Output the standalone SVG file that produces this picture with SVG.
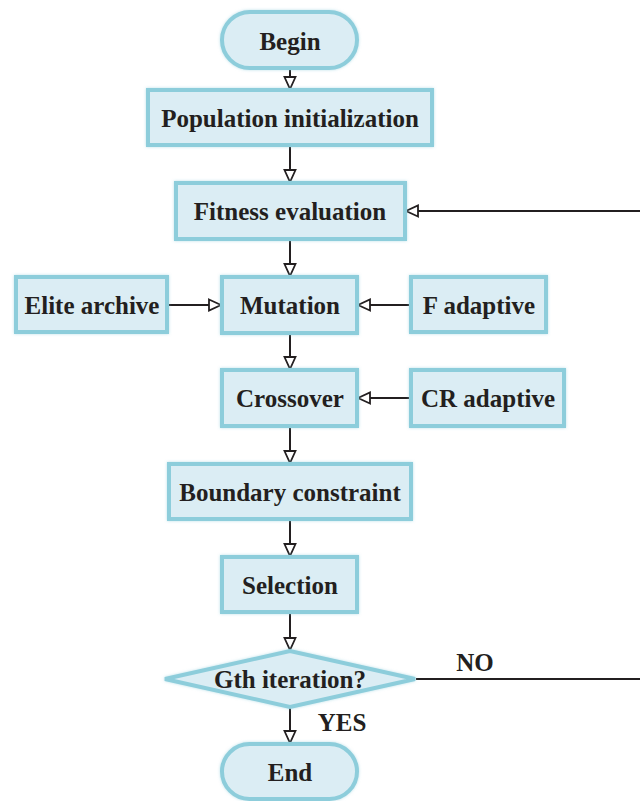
<svg xmlns="http://www.w3.org/2000/svg" width="640" height="801" viewBox="0 0 640 801">
<style>
.box{fill:#dbedf4;stroke:#8dcddb;stroke-width:4;filter:url(#glow)}
.t{font-family:"Liberation Serif","Times New Roman",serif;font-weight:bold;font-size:25px;fill:#231f20;text-anchor:middle;dominant-baseline:central}
.c{fill:none;stroke:#231f20;stroke-width:2}
</style>
<defs>
<filter id="glow" x="-10%" y="-20%" width="120%" height="140%">
<feGaussianBlur in="SourceAlpha" stdDeviation="1.5" result="b"/>
<feFlood flood-color="#8dcddb" flood-opacity="0.6"/>
<feComposite in2="b" operator="in" result="s"/>
<feMerge><feMergeNode in="s"/><feMergeNode in="SourceGraphic"/></feMerge>
</filter>
<marker id="ah" viewBox="0 0 14 14" refX="13" refY="7" markerWidth="14" markerHeight="14" markerUnits="userSpaceOnUse" orient="auto">
<path d="M1,1.5 L13,7 L1,12.5 z" fill="#fff" stroke="#231f20" stroke-width="1.8"/>
</marker>
</defs>
<rect width="640" height="801" fill="#fff"/>
<g id="connectors">
<line class="c" x1="290" y1="69" x2="290" y2="89" marker-end="url(#ah)"/>
<line class="c" x1="290" y1="146" x2="290" y2="182" marker-end="url(#ah)"/>
<line class="c" x1="290" y1="240" x2="290" y2="276" marker-end="url(#ah)"/>
<line class="c" x1="290" y1="334" x2="290" y2="369" marker-end="url(#ah)"/>
<line class="c" x1="290" y1="427" x2="290" y2="463" marker-end="url(#ah)"/>
<line class="c" x1="290" y1="520" x2="290" y2="556" marker-end="url(#ah)"/>
<line class="c" x1="290" y1="613" x2="290" y2="650" marker-end="url(#ah)"/>
<line class="c" x1="290" y1="708" x2="290" y2="743" marker-end="url(#ah)"/>
<line class="c" x1="168" y1="305" x2="221" y2="305" marker-end="url(#ah)"/>
<line class="c" x1="410" y1="305" x2="358" y2="305" marker-end="url(#ah)"/>
<line class="c" x1="410" y1="398" x2="358" y2="398" marker-end="url(#ah)"/>
<line class="c" x1="640" y1="211" x2="406" y2="211" marker-end="url(#ah)"/>
<line class="c" x1="416" y1="679" x2="640" y2="679"/>
<text class="t" x="475" y="662">NO</text>
<text class="t" x="342" y="722">YES</text>
</g>
<g id="begin"><rect class="box" x="222" y="12" width="135" height="56" rx="28"/><text class="t" x="290" y="41">Begin</text></g>
<g id="popinit"><rect class="box" x="148" y="90" width="284" height="55"/><text class="t" x="290" y="118">Population initialization</text></g>
<g id="fitness"><rect class="box" x="176" y="183" width="229" height="56"/><text class="t" x="290" y="211">Fitness evaluation</text></g>
<g id="elite"><rect class="box" x="16" y="277" width="151" height="55"/><text class="t" x="92" y="305">Elite archive</text></g>
<g id="mutation"><rect class="box" x="222" y="277" width="135" height="56"/><text class="t" x="290" y="305">Mutation</text></g>
<g id="fadaptive"><rect class="box" x="411" y="277" width="135" height="55"/><text class="t" x="479" y="305">F adaptive</text></g>
<g id="crossover"><rect class="box" x="222" y="370" width="135" height="56"/><text class="t" x="290" y="398">Crossover</text></g>
<g id="cradaptive"><rect class="box" x="411" y="370" width="153" height="56"/><text class="t" x="488" y="398">CR adaptive</text></g>
<g id="boundary"><rect class="box" x="169" y="464" width="242" height="55"/><text class="t" x="290" y="492">Boundary constraint</text></g>
<g id="selection"><rect class="box" x="222" y="557" width="135" height="55"/><text class="t" x="290" y="585">Selection</text></g>
<g id="decision"><polygon class="box" points="165,679 290,651 415,679 290,707"/><text class="t" x="290" y="679">Gth iteration?</text></g>
<g id="end"><rect class="box" x="222" y="744" width="135" height="55" rx="27.5"/><text class="t" x="290" y="772">End</text></g>
</svg>
